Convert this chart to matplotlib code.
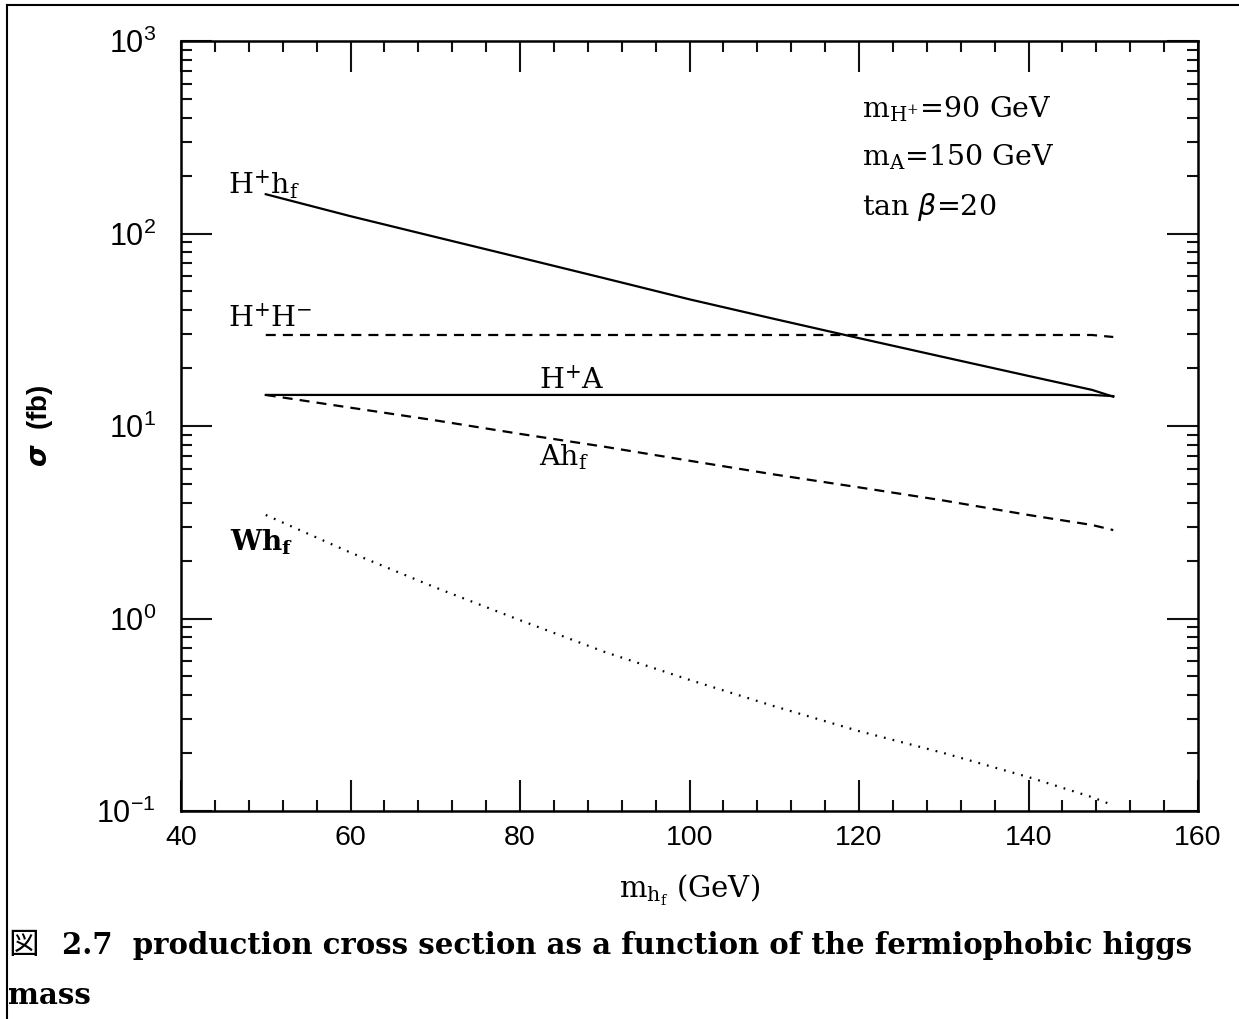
import numpy as np
import matplotlib
matplotlib.use("Agg")
import matplotlib.pyplot as plt
from matplotlib.lines import Line2D
from matplotlib.ticker import MultipleLocator, LogLocator, FixedLocator, NullFormatter

# data (m_hf in GeV, sigma in fb)
m_hf = [50, 60, 70, 80, 90, 100, 110, 120, 130, 140, 147.5, 150]
sig_hphf = [160, 123, 96, 75, 58.5, 45.5, 36, 28.6, 22.8, 18.2, 15.4, 14.2]
sig_hphm = [29.7, 29.7, 29.7, 29.7, 29.7, 29.7, 29.7, 29.7, 29.7, 29.7, 29.7, 29.0]
sig_hpa = [14.5, 14.5, 14.5, 14.5, 14.5, 14.5, 14.5, 14.5, 14.5, 14.5, 14.5, 14.3]
sig_ahf = [14.5, 12.45, 10.7, 9.1, 7.8, 6.6, 5.6, 4.8, 4.1, 3.45, 3.06, 2.88]
sig_whf = [3.45, 2.2, 1.45, 0.98, 0.67, 0.48, 0.35, 0.26, 0.2, 0.15, 0.118, 0.107]

x_major = [40, 60, 80, 100, 120, 140, 160]
y_major = [0.1, 1, 10, 100, 1000]
y_labels = [r'$\mathregular{10^{-1}}$', r'$\mathregular{10^{0}}$', r'$\mathregular{10^{1}}$',
            r'$\mathregular{10^{2}}$', r'$\mathregular{10^{3}}$']

SERIF = 'DejaVu Serif'
SANS = 'Liberation Sans'

fig = plt.figure(figsize=(12.39, 10.19), dpi=100)
ax = fig.add_axes([181/1239, 1 - 811/1019, 1017/1239, 770/1019])

lw = 1.6
ax.plot(m_hf, sig_hphf, color='black', lw=lw)
ax.plot(m_hf, sig_hphm, color='black', lw=lw, linestyle=(0, (4.5, 3.2)))
ax.plot(m_hf, sig_hpa, color='black', lw=lw)
ax.plot(m_hf, sig_ahf, color='black', lw=lw, linestyle=(0, (4.5, 3.2)))
ax.plot(m_hf, sig_whf, color='black', lw=lw, linestyle=(0, (0.8, 3.2)))

ax.set_xlim(40, 160)
ax.set_yscale('log')
ax.set_ylim(0.1, 1000)

ax.xaxis.set_major_locator(FixedLocator(x_major))
ax.xaxis.set_minor_locator(MultipleLocator(4))
ax.set_xticklabels([str(v) for v in x_major], family=SANS, fontsize=20.5)
ax.yaxis.set_major_locator(FixedLocator(y_major))
ax.yaxis.set_minor_locator(LogLocator(base=10, subs=np.arange(2, 10)))
ax.yaxis.set_minor_formatter(NullFormatter())
ax.set_yticklabels(y_labels, family=SANS, fontsize=22)

ax.tick_params(which='both', direction='in', top=True, right=True, width=1.5, color='#111111')
ax.tick_params(which='major', length=22)
ax.tick_params(axis='x', which='major', pad=10)
ax.tick_params(axis='y', which='major', pad=18)
ax.tick_params(which='minor', length=8)
for s in ax.spines.values():
    s.set_linewidth(1.8)

ax.set_ylabel(r'$\boldsymbol{\sigma}$  (fb)', family=SANS, fontsize=20, fontweight='bold',
              labelpad=30)
ax.set_xlabel(r'$\mathregular{m_{h_f}}$ (GeV)', family=SERIF, fontsize=21, labelpad=16)

# curve labels
lab = dict(family=SERIF, fontsize=20.5, color='black')
ax.text(45.6, 180, r'$\mathregular{H^{+}h_{f}}$', va='center', ha='left', **lab)
ax.text(45.6, 36, r'$\mathregular{H^{+}H^{-}}$', va='center', ha='left', **lab)
ax.text(82.3, 17.2, r'$\mathregular{H^{+}A}$', va='center', ha='left', **lab)
ax.text(82.3, 6.9, r'$\mathregular{Ah_{f}}$', va='center', ha='left', **lab)
ax.text(45.8, 2.5, r'$\mathregular{Wh_{f}}$', va='center', ha='left', fontweight='bold',
        family=SERIF, fontsize=20)

# parameter block
ax.text(120.4, 440, r'$\mathregular{m_{H^{+}}}$=90 GeV', va='center', ha='left', **lab)
ax.text(120.4, 250, r'$\mathregular{m_{A}}$=150 GeV', va='center', ha='left', **lab)
ax.text(120.4, 138, r'tan $\beta$=20', va='center', ha='left', **lab)

# caption
fig.text(8/1239, 1 - 945/1019, '図', family=['Noto Sans CJK JP', 'DejaVu Sans'],
         fontsize=22, va='center', ha='left')
fig.text(62/1239, 1 - 945/1019,
         '2.7  production cross section as a function of the fermiophobic higgs',
         family=SERIF, fontweight='bold', fontsize=21, va='center', ha='left')
fig.text(8/1239, 1 - 995/1019, 'mass', family=SERIF, fontweight='bold', fontsize=21,
         va='center', ha='left')

# page border (left and top)
fig.add_artist(Line2D([7/1239, 7/1239], [0, 1 - 5/1019], color='black', lw=1.5,
                      transform=fig.transFigure))
fig.add_artist(Line2D([7/1239, 1], [1 - 5/1019, 1 - 5/1019], color='black', lw=1.5,
                      transform=fig.transFigure))

fig.savefig('out.png', dpi=100)
